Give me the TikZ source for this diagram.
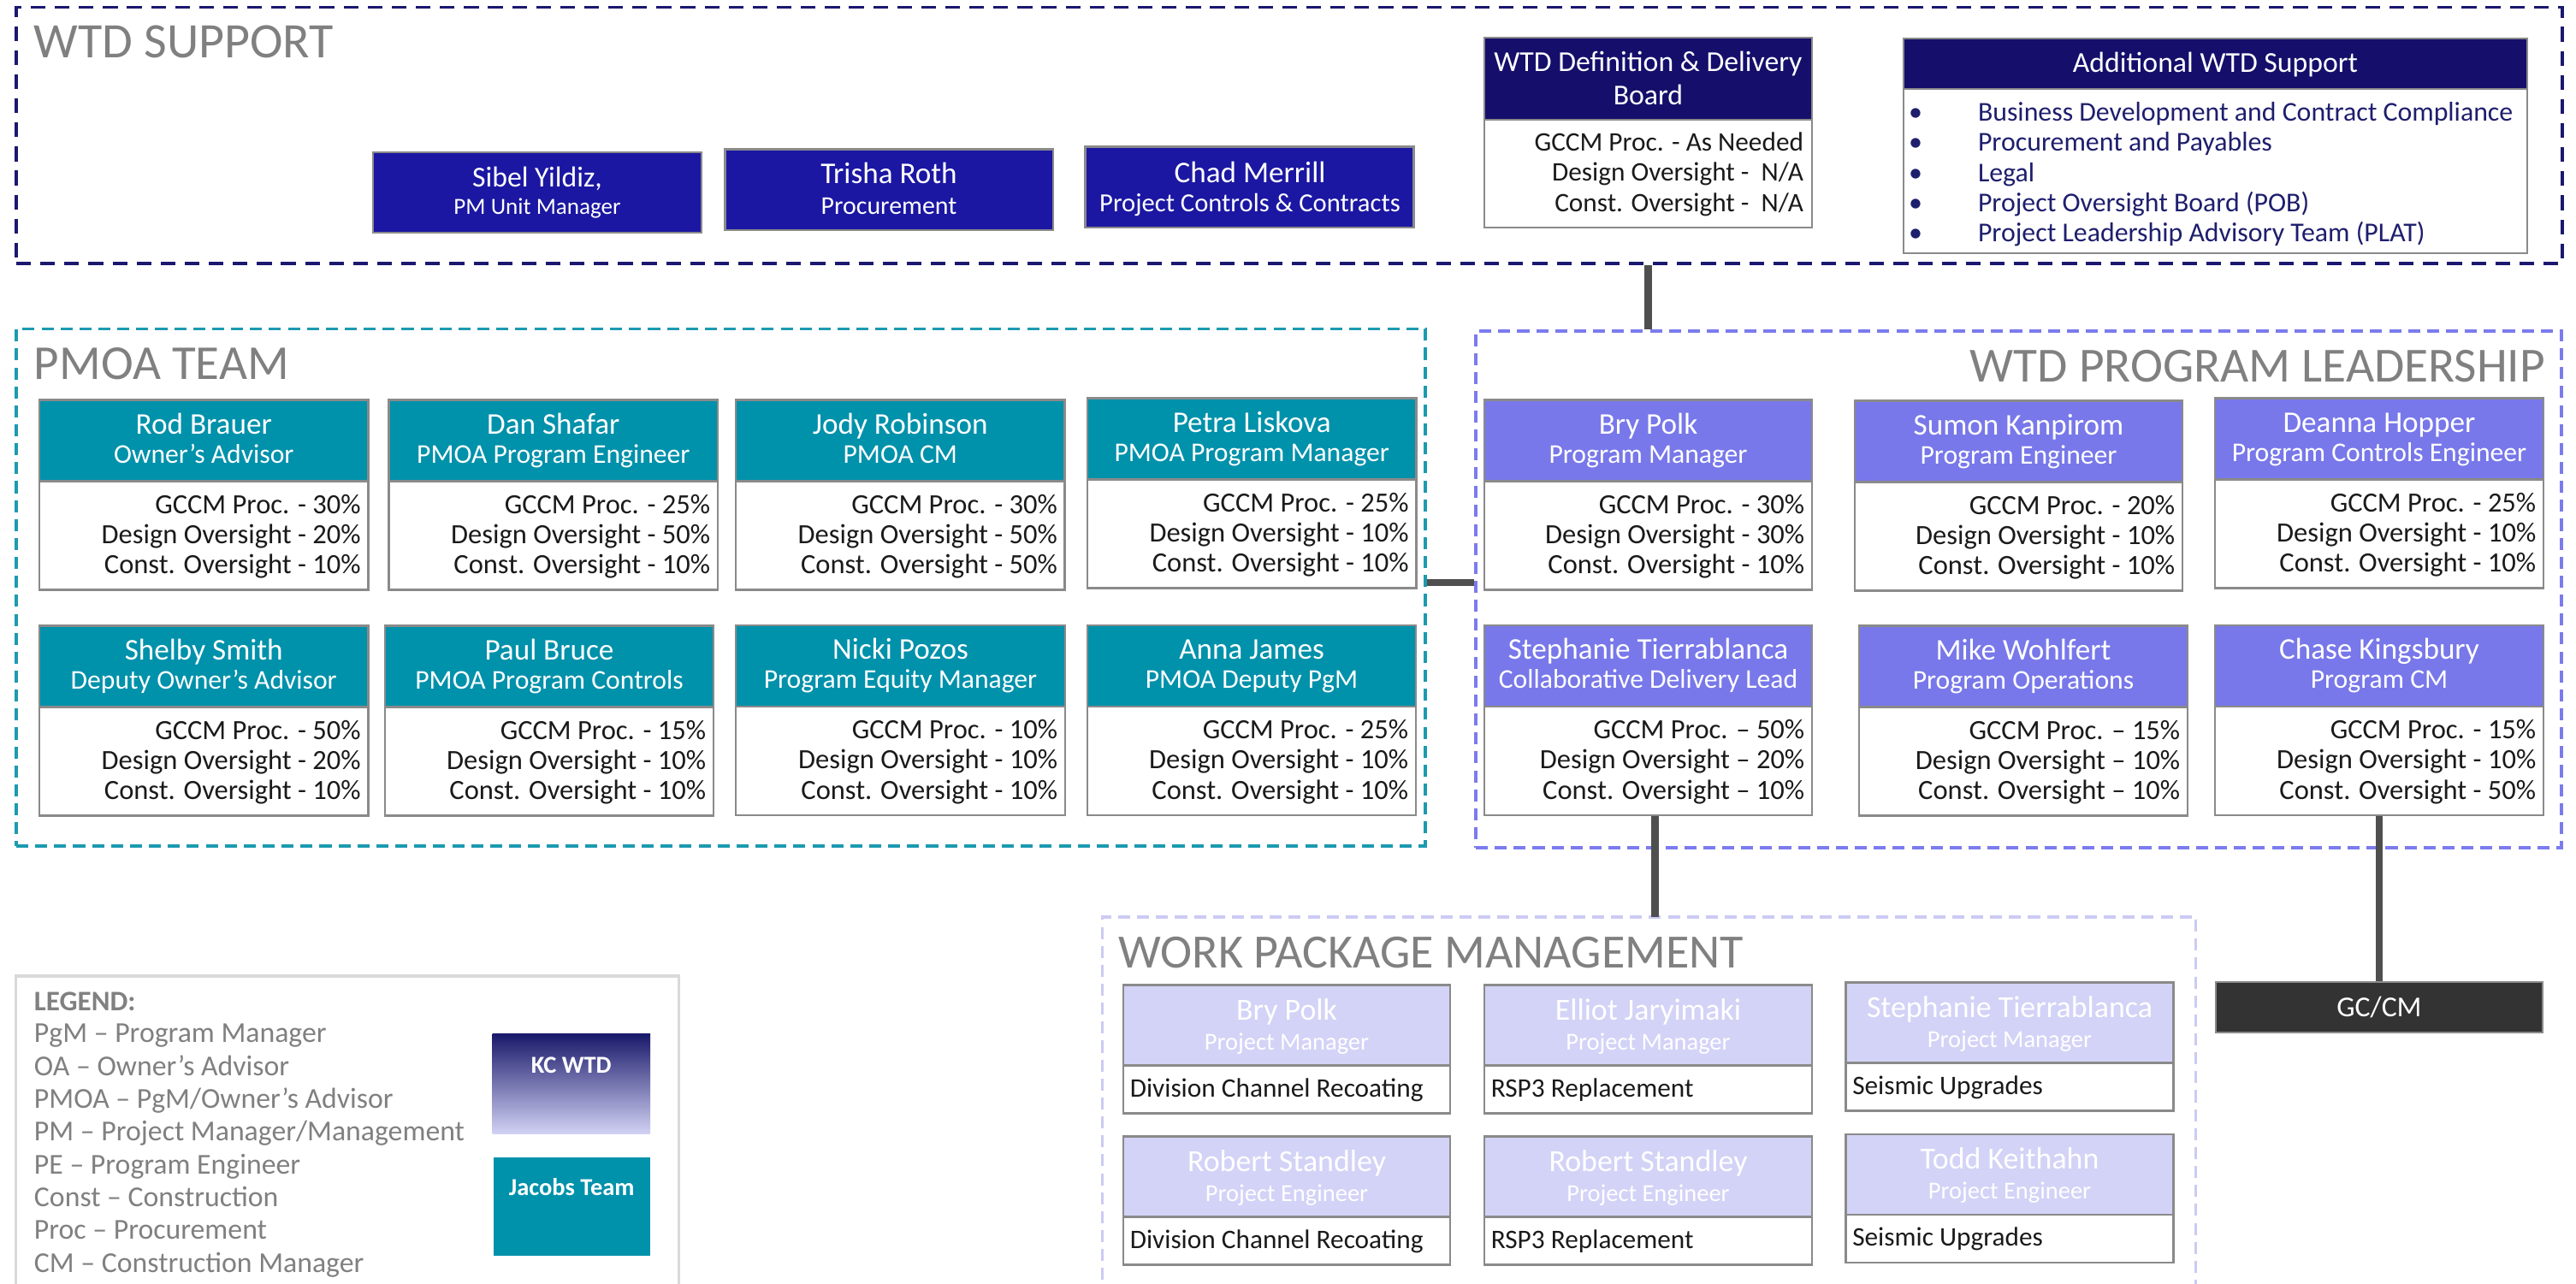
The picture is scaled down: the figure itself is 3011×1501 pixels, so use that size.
\documentclass[tikz,border=0pt]{standalone}
\usepackage{fontspec}
\setmainfont{Carlito}
\usetikzlibrary{fit,calc}
\newcommand\setfs[1]{\fontsize{#1}{#1}\selectfont}
\definecolor{supnavy}{HTML}{1B1870}
\definecolor{supblue}{HTML}{1B17A2}
\definecolor{defnavy}{HTML}{150F6B}
\definecolor{jteal}{HTML}{0091AB}
\definecolor{tealframe}{HTML}{1C9AB0}
\definecolor{peri}{HTML}{7878EA}
\definecolor{periframe}{HTML}{7B7BEE}
\definecolor{lav}{HTML}{D3D3F7}
\definecolor{lavframe}{HTML}{CBCBF3}
\definecolor{boxgray}{HTML}{8A8A8A}
\definecolor{titlegray}{HTML}{808080}
\definecolor{conngray}{HTML}{4F4F4F}
\definecolor{legendgray}{HTML}{D9D9D9}
\definecolor{gcdark}{HTML}{333333}
\definecolor{listnavy}{HTML}{1E1E6E}
\definecolor{kcnavy}{HTML}{1A1A6B}
\definecolor{kcmid}{HTML}{8A8AC8}
\definecolor{kclav}{HTML}{D2D2F5}
\definecolor{bodyblack}{HTML}{1A1A1A}
\tikzset{
  conn/.style={draw=conngray, line width=2.3pt},
  hdr/.style={draw=boxgray, line width=0.7pt, inner sep=0pt},
  bodyb/.style={draw=boxgray, line width=0.7pt, fill=white, inner sep=0pt},
  txt/.style={inner sep=0pt, outer sep=0pt},
  nm/.style={txt, anchor=base, text=white, font=\setfs{10}},
  ttl/.style={txt, anchor=base, text=white, font=\setfs{9}},
  bl/.style={txt, anchor=base east, text=bodyblack, font=\setfs{9.25}},
  sect/.style={txt, text=titlegray},
  frame/.style={inner sep=0pt, line width=0.9pt, dash pattern=on 4pt off 2.3pt},
  legtext/.style={txt, anchor=base west, text=titlegray, font=\setfs{9.6}},
}
% id, x1, y1, x2, fill, name, title, lines
\newcommand\orgbox[8]{%
  \node[hdr, fill=#5, fit={(#2,#3) (#4,#3+95)}] (#1h) {};
  \node[bodyb, fit={(#2,#3+95) (#4,#3+222)}] (#1b) {};
  \node[nm] (#1n) at ($(#1h.north)+(0,40.7)$) {#6};
  \node[ttl] (#1t) at ($(#1h.north)+(0,75)$) {#7};
  \foreach \l [count=\i] in {#8} {
    \node[bl] (#1l\i) at ($(#1b.north east)+(-10,3.8+35.2*\i)$) {\l};
  }
}
% id, x1, y1, x2, name, title, body
\newcommand\wpbox[7]{%
  \node[hdr, fill=lav, fit={(#2,#3) (#4,#3+94)}] (#1h) {};
  \node[bodyb, fit={(#2,#3+94) (#4,#3+150)}] (#1b) {};
  \node[nm, font=\setfs{10.2}] (#1n) at ($(#1h.north)+(0,41.6)$) {#5};
  \node[ttl, font=\setfs{8.1}] (#1t) at ($(#1h.north)+(0,76.6)$) {#6};
  \node[txt, anchor=base west, text=bodyblack, font=\setfs{8.9}] (#1l) at ($(#1b.north west)+(9,38)$) {#7};
}
\begin{document}
\begin{tikzpicture}[x=0.01cm,y=-0.01cm]
\useasboundingbox (0,0) rectangle (3011,1501);
\clip (0,0) rectangle (3011,1501);
\fill[white] (0,0) rectangle (3011,1501);

% ---------- frames ----------
\node[frame, draw=supnavy, line width=1pt, dash pattern=on 4.9pt off 3.1pt, fit={(19,8.5) (2995,308)}] (fsup) {};
\node[frame, draw=tealframe, fit={(19,384.5) (1666,989)}] (fpmoa) {};
\node[frame, draw=periframe, fit={(1725,387) (2994,991)}] (flead) {};
\node[inner sep=0pt, fit={(1289,1072.7) (2566,1540)}] (fwpm) {};
\draw[frame, draw=lavframe] (fwpm.south west) -- (fwpm.north west) -- (fwpm.north east) -- (fwpm.south east);

% ---------- section titles ----------
\node[sect, anchor=base west, font=\setfs{16.5}] (tsup) at (40,68) {WTD SUPPORT};
\node[sect, anchor=base west, font=\setfs{16.2}] (tpmoa) at (40,443.5) {PMOA TEAM};
\node[sect, anchor=base east, font=\setfs{16.3}] (tlead) at (2975,446.5) {WTD PROGRAM LEADERSHIP};
\node[sect, anchor=base west, font=\setfs{15.9}] (twpm) at (1307.6,1131.7) {WORK PACKAGE MANAGEMENT};

% ---------- WTD support ----------
\node[hdr, fill=supblue, fit={(436,178) (820,272)}] (sy) {};
\node[nm, font=\setfs{9.6}] (syn) at (628,218.3) {Sibel Yildiz,};
\node[ttl, font=\setfs{7.7}] (syt) at (628,250.7) {PM Unit Manager};
\node[hdr, fill=supblue, fit={(847.4,174.3) (1231,269)}] (tr) {};
\node[nm] (trn) at (1039,215) {Trisha Roth};
\node[ttl, font=\setfs{8.5}] (trt) at (1039,250.7) {Procurement};
\node[hdr, fill=supblue, fit={(1268.7,171.7) (1652.7,266)}] (cm) {};
\node[nm] (cmn) at (1461,213.3) {Chad Merrill};
\node[ttl, font=\setfs{8.7}] (cmt) at (1461,247.3) {Project Controls \& Contracts};

\node[hdr, fill=defnavy, fit={(1735,44) (2118,140)}] (defh) {};
\node[bodyb, fit={(1735,140) (2118,266)}] (defb) {};
\node[nm, font=\setfs{9.6}] (defn1) at (1926.5,83.3) {WTD Definition \& Delivery};
\node[nm, font=\setfs{9.6}] (defn2) at (1926.5,122.7) {Board};
\node[bl, font=\setfs{8.9}] (defl1) at (2108,176.7) {GCCM Proc. - As Needed};
\node[bl, font=\setfs{8.9}] (defl2) at (2108,211.7) {Design Oversight -\ \ N/A};
\node[bl, font=\setfs{8.9}] (defl3) at (2108,247.3) {Const. Oversight -\ \ N/A};

\node[hdr, fill=defnavy, fit={(2225,45) (2954,104)}] (addh) {};
\node[bodyb, fit={(2225,104) (2954,296)}] (addb) {};
\node[nm, font=\setfs{9.6}] (addn) at (2589.5,85) {Additional WTD Support};
\foreach \t [count=\i] in {Business Development and Contract Compliance, Procurement and Payables, Legal, Project Oversight Board (POB), Project Leadership Advisory Team (PLAT)} {
  \node[txt, anchor=base, text=listnavy, font=\setfs{9.1}] (addbul\i) at (2239,106.5+35.2*\i) {•};
  \node[txt, anchor=base west, text=listnavy, font=\setfs{9.05}] (addl\i) at (2312,106.5+35.2*\i) {\t};
}

% ---------- PMOA team ----------
\orgbox{rb}{46}{467.6}{430.5}{jteal}{Rod Brauer}{Owner's Advisor}{GCCM Proc. - 30\%, Design Oversight - 20\%, Const. Oversight - 10\%}
\orgbox{ds}{454.6}{467.6}{839}{jteal}{Dan Shafar}{PMOA Program Engineer}{GCCM Proc. - 25\%, Design Oversight - 50\%, Const. Oversight - 10\%}
\orgbox{jr}{860}{467.6}{1244.6}{jteal}{Jody Robinson}{PMOA CM}{GCCM Proc. - 30\%, Design Oversight - 50\%, Const. Oversight - 50\%}
\orgbox{pk}{1271}{465.7}{1655.4}{jteal}{Petra Liskova}{PMOA Program Manager}{GCCM Proc. - 25\%, Design Oversight - 10\%, Const. Oversight - 10\%}
\orgbox{ss}{46}{731.6}{430.5}{jteal}{Shelby Smith}{Deputy Owner's Advisor}{GCCM Proc. - 50\%, Design Oversight - 20\%, Const. Oversight - 10\%}
\orgbox{pb}{450}{731.6}{834}{jteal}{Paul Bruce}{PMOA Program Controls}{GCCM Proc. - 15\%, Design Oversight - 10\%, Const. Oversight - 10\%}
\orgbox{np}{860}{731}{1245}{jteal}{Nicki Pozos}{Program Equity Manager}{GCCM Proc. - 10\%, Design Oversight - 10\%, Const. Oversight - 10\%}
\orgbox{aj}{1271}{731}{1655}{jteal}{Anna James}{PMOA Deputy PgM}{GCCM Proc. - 25\%, Design Oversight - 10\%, Const. Oversight - 10\%}

% ---------- WTD program leadership ----------
\orgbox{bp}{1735}{467.6}{2118}{peri}{Bry Polk}{Program Manager}{GCCM Proc. - 30\%, Design Oversight - 30\%, Const. Oversight - 10\%}
\orgbox{sk}{2168}{468.7}{2551}{peri}{Sumon Kanpirom}{Program Engineer}{GCCM Proc. - 20\%, Design Oversight - 10\%, Const. Oversight - 10\%}
\orgbox{dh}{2589}{465.7}{2973}{peri}{Deanna Hopper}{Program Controls Engineer}{GCCM Proc. - 25\%, Design Oversight - 10\%, Const. Oversight - 10\%}
\orgbox{st}{1735}{731}{2118}{peri}{Stephanie Tierrablanca}{Collaborative Delivery Lead}{GCCM Proc. – 50\%, Design Oversight – 20\%, Const. Oversight – 10\%}
\orgbox{mw}{2173}{731.6}{2557}{peri}{Mike Wohlfert}{Program Operations}{GCCM Proc. – 15\%, Design Oversight – 10\%, Const. Oversight – 10\%}
\orgbox{ck}{2589}{731}{2973}{peri}{Chase Kingsbury}{Program CM}{GCCM Proc. - 15\%, Design Oversight - 10\%, Const. Oversight - 50\%}

% ---------- work package management ----------
\wpbox{wa}{1313}{1151.7}{1695}{Bry Polk}{Project Manager}{Division Channel Recoating}
\wpbox{wb}{1735}{1151.7}{2118}{Elliot Jaryimaki}{Project Manager}{RSP3 Replacement}
\wpbox{wc}{2157.5}{1148.7}{2540.5}{Stephanie Tierrablanca}{Project Manager}{Seismic Upgrades}
\wpbox{wd}{1313}{1328.7}{1695}{Robert Standley}{Project Engineer}{Division Channel Recoating}
\wpbox{we}{1735}{1328.7}{2118}{Robert Standley}{Project Engineer}{RSP3 Replacement}
\wpbox{wf}{2157.5}{1326}{2540.5}{Todd Keithahn}{Project Engineer}{Seismic Upgrades}

\node[hdr, fill=gcdark, fit={(2590,1148) (2972,1207)}] (gccm) {};
\node[txt, text=white, font=\setfs{9.6}] (gccmt) at (gccm.center) {GC/CM};

% ---------- connectors ----------
\coordinate (cpm) at (0,681);
\draw[conn] (fsup.south -| defh.center) -- (flead.north -| defh.center);
\draw[conn] (fpmoa.east |- cpm) -- (flead.west |- cpm);
\draw[conn] ([xshift=0.08cm]stb.south) -- ([xshift=0.08cm]stb.south |- fwpm.north);
\draw[conn] (ckb.south) -- (gccm.north);

% ---------- legend ----------
\node[inner sep=0pt, fit={(19.4,1141.7) (793,1540)}] (fleg) {};
\draw[draw=legendgray, line width=1pt] (fleg.south west) -- (fleg.north west) -- (fleg.north east) -- (fleg.south east);
\node[legtext, font=\bfseries\setfs{9.4}] (legt) at (40,1181.7) {LEGEND:};
\foreach \t [count=\i] in {PgM – Program Manager, OA – Owner's Advisor, PMOA – PgM/Owner's Advisor, PM – Project Manager/Management, PE – Program Engineer, Const – Construction, Proc – Procurement, CM – Construction Manager} {
  \node[legtext] (leg\i) at (40,1180.7+38.3*\i) {\t};
}
\node[inner sep=0pt, top color=kcnavy, middle color=kcmid, bottom color=kclav, fit={(575.5,1209) (760,1325.7)}] (kc) {};
\node[txt, anchor=base, text=white, font=\bfseries\setfs{8.1}] (kct) at (667.75,1255) {KC WTD};
\node[inner sep=0pt, fill=jteal, fit={(576.5,1353) (760,1468)}] (jt) {};
\node[txt, anchor=base, text=white, font=\bfseries\setfs{8.1}] (jtt) at (668.25,1397.7) {Jacobs Team};
\end{tikzpicture}
\end{document}
